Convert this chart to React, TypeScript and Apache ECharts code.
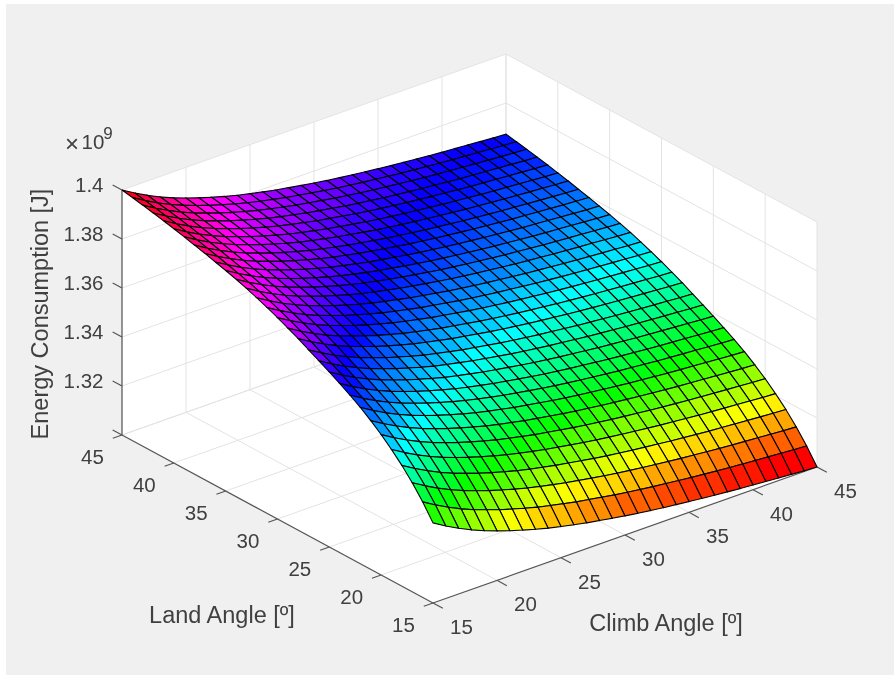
import React, { useEffect, useRef } from "react";
import * as echarts from "echarts";

const climbAngles = [15,16,17,18,19,20,21,22,23,24,25,26,27,28,29,30,31,32,33,34,35,36,37,38,39,40,41,42,43,44,45];
const landAngles = [15,16,17,18,19,20,21,22,23,24,25,26,27,28,29,30,31,32,33,34,35,36,37,38,39,40,41,42,43,44,45];
const climbTicks = [15,20,25,30,35,40,45];
const landTicks = [15,20,25,30,35,40,45];
const energyTicks = [1.3,1.32,1.34,1.36,1.38,1.4];
const energyTickLabels = ["1.32","1.34","1.36","1.38","1.4"];

// Energy in units of 1e5 J: one row per land angle, one column per climb angle.
const energy = [
[13327,13296,13268,13243,13221,13202,13184,13168,13153,13139,13127,13116,13105,13096,13087,13078,13070,13063,13056,13050,13044,13038,13033,13028,13023,13019,13015,13011,13007,13003,13000],
[13390,13359,13331,13306,13284,13265,13247,13231,13216,13202,13190,13179,13168,13159,13150,13141,13133,13126,13119,13113,13107,13101,13096,13091,13086,13082,13078,13074,13070,13066,13063],
[13445,13414,13386,13361,13339,13320,13302,13286,13271,13257,13245,13234,13223,13214,13205,13196,13188,13181,13174,13168,13162,13156,13151,13146,13141,13137,13133,13129,13125,13121,13118],
[13493,13462,13434,13409,13387,13368,13350,13334,13319,13305,13293,13282,13271,13262,13253,13244,13236,13229,13222,13216,13210,13204,13199,13194,13189,13185,13181,13177,13173,13169,13166],
[13535,13504,13476,13451,13429,13410,13392,13376,13361,13347,13335,13324,13313,13304,13295,13286,13278,13271,13264,13258,13252,13246,13241,13236,13231,13227,13223,13219,13215,13211,13208],
[13573,13542,13514,13489,13467,13448,13430,13414,13399,13385,13373,13362,13351,13342,13333,13324,13316,13309,13302,13296,13290,13284,13279,13274,13269,13265,13261,13257,13253,13249,13246],
[13607,13576,13548,13523,13501,13482,13464,13448,13433,13419,13407,13396,13385,13376,13367,13358,13350,13343,13336,13330,13324,13318,13313,13308,13303,13299,13295,13291,13287,13283,13280],
[13638,13607,13579,13554,13532,13513,13495,13479,13464,13450,13438,13427,13416,13407,13398,13389,13381,13374,13367,13361,13355,13349,13344,13339,13334,13330,13326,13322,13318,13314,13311],
[13665,13634,13606,13581,13559,13540,13522,13506,13491,13477,13465,13454,13443,13434,13425,13416,13408,13401,13394,13388,13382,13376,13371,13366,13361,13357,13353,13349,13345,13341,13338],
[13690,13659,13631,13606,13584,13565,13547,13531,13516,13502,13490,13479,13468,13459,13450,13441,13433,13426,13419,13413,13407,13401,13396,13391,13386,13382,13378,13374,13370,13366,13363],
[13714,13683,13655,13630,13608,13589,13571,13555,13540,13526,13514,13503,13492,13483,13474,13465,13457,13450,13443,13437,13431,13425,13420,13415,13410,13406,13402,13398,13394,13390,13387],
[13737,13706,13678,13653,13631,13612,13594,13578,13563,13549,13537,13526,13515,13506,13497,13488,13480,13473,13466,13460,13454,13448,13443,13438,13433,13429,13425,13421,13417,13413,13410],
[13759,13728,13700,13675,13653,13634,13616,13600,13585,13571,13559,13548,13537,13528,13519,13510,13502,13495,13488,13482,13476,13470,13465,13460,13455,13451,13447,13443,13439,13435,13432],
[13782,13751,13723,13698,13676,13657,13639,13623,13608,13594,13582,13571,13560,13551,13542,13533,13525,13518,13511,13505,13499,13493,13488,13483,13478,13474,13470,13466,13462,13458,13455],
[13802,13771,13743,13718,13696,13677,13659,13643,13628,13614,13602,13591,13580,13571,13562,13553,13545,13538,13531,13525,13519,13513,13508,13503,13498,13494,13490,13486,13482,13478,13475],
[13822,13791,13763,13738,13716,13697,13679,13663,13648,13634,13622,13611,13600,13591,13582,13573,13565,13558,13551,13545,13539,13533,13528,13523,13518,13514,13510,13506,13502,13498,13495],
[13840,13809,13781,13756,13734,13715,13697,13681,13666,13652,13640,13629,13618,13609,13600,13591,13583,13576,13569,13563,13557,13551,13546,13541,13536,13532,13528,13524,13520,13516,13513],
[13857,13826,13798,13773,13751,13732,13714,13698,13683,13669,13657,13646,13635,13626,13617,13608,13600,13593,13586,13580,13574,13568,13563,13558,13553,13549,13545,13541,13537,13533,13530],
[13873,13842,13814,13789,13767,13748,13730,13714,13699,13685,13673,13662,13651,13642,13633,13624,13616,13609,13602,13596,13590,13584,13579,13574,13569,13565,13561,13557,13553,13549,13546],
[13887,13856,13828,13803,13781,13762,13744,13728,13713,13699,13687,13676,13665,13656,13647,13638,13630,13623,13616,13610,13604,13598,13593,13588,13583,13579,13575,13571,13567,13563,13560],
[13900,13869,13841,13816,13794,13775,13757,13741,13726,13712,13700,13689,13678,13669,13660,13651,13643,13636,13629,13623,13617,13611,13606,13601,13596,13592,13588,13584,13580,13576,13573],
[13912,13881,13853,13828,13806,13787,13769,13753,13738,13724,13712,13701,13690,13681,13672,13663,13655,13648,13641,13635,13629,13623,13618,13613,13608,13604,13600,13596,13592,13588,13585],
[13924,13893,13865,13840,13818,13799,13781,13765,13750,13736,13724,13713,13702,13693,13684,13675,13667,13660,13653,13647,13641,13635,13630,13625,13620,13616,13612,13608,13604,13600,13597],
[13935,13904,13876,13851,13829,13810,13792,13776,13761,13747,13735,13724,13713,13704,13695,13686,13678,13671,13664,13658,13652,13646,13641,13636,13631,13627,13623,13619,13615,13611,13608],
[13946,13915,13887,13862,13840,13821,13803,13787,13772,13758,13746,13735,13724,13715,13706,13697,13689,13682,13675,13669,13663,13657,13652,13647,13642,13638,13634,13630,13626,13622,13619],
[13956,13925,13897,13872,13850,13831,13813,13797,13782,13768,13756,13745,13734,13725,13716,13707,13699,13692,13685,13679,13673,13667,13662,13657,13652,13648,13644,13640,13636,13632,13629],
[13966,13935,13907,13882,13860,13841,13823,13807,13792,13778,13766,13755,13744,13735,13726,13717,13709,13702,13695,13689,13683,13677,13672,13667,13662,13658,13654,13650,13646,13642,13639],
[13975,13944,13916,13891,13869,13850,13832,13816,13801,13787,13775,13764,13753,13744,13735,13726,13718,13711,13704,13698,13692,13686,13681,13676,13671,13667,13663,13659,13655,13651,13648],
[13984,13953,13925,13900,13878,13859,13841,13825,13810,13796,13784,13773,13762,13753,13744,13735,13727,13720,13713,13707,13701,13695,13690,13685,13680,13676,13672,13668,13664,13660,13657],
[13992,13961,13933,13908,13886,13867,13849,13833,13818,13804,13792,13781,13770,13761,13752,13743,13735,13728,13721,13715,13709,13703,13698,13693,13688,13684,13680,13676,13672,13668,13665],
[14000,13969,13941,13916,13894,13875,13857,13841,13826,13812,13800,13789,13778,13769,13760,13751,13743,13736,13729,13723,13717,13711,13706,13701,13696,13692,13688,13684,13680,13676,13673],
];

const FONT = '"Liberation Sans", Arial, sans-serif';
const TEXT = "#404040";
const GRIDLINE = "#e3e3e3";
const AXISLINE = "#555555";
const C0 = 15, C1 = 45, L0 = 15, L1 = 45, Z0 = 1.3, Z1 = 1.4;

// Orthographic view of (climb, land, energy in 1e9 J) onto the page.
function project(c: number, l: number, z: number): number[] {
  return [
    433 + (c - C0) * 12.8 - (l - L0) * 10.367,
    603 - (c - C0) * 4.533 - (l - L0) * 5.6 - ((z - Z0) / (Z1 - Z0)) * 245,
  ];
}

// MATLAB hsv colormap with 64 levels.
function hsvColor(z: number): string {
  const idx = Math.min(63, Math.floor(((z - Z0) / (Z1 - Z0)) * 64));
  const h = (idx / 64) * 6;
  const i = Math.floor(h);
  const f = h - i;
  const t = [
    [1, f, 0],
    [1 - f, 1, 0],
    [0, 1, f],
    [0, 1 - f, 1],
    [f, 0, 1],
    [1, 0, 1 - f],
  ][i % 6];
  return `rgb(${t.map((v) => Math.round(v * 255)).join(",")})`;
}

type P3 = number[];
const walls: P3[][] = [
  [[C0, L1, Z0], [C1, L1, Z0], [C1, L1, Z1], [C0, L1, Z1]],
  [[C1, L1, Z0], [C1, L0, Z0], [C1, L0, Z1], [C1, L1, Z1]],
  [[C0, L0, Z0], [C1, L0, Z0], [C1, L1, Z0], [C0, L1, Z0]],
];

const gridSegs: P3[][] = [];
climbTicks.forEach((c) => {
  if (c > C0) gridSegs.push([[c, L0, Z0], [c, L1, Z0]]);
  gridSegs.push([[c, L1, Z0], [c, L1, Z1]]);
});
landTicks.forEach((l) => {
  if (l > L0) gridSegs.push([[C0, l, Z0], [C1, l, Z0]]);
  gridSegs.push([[C1, l, Z0], [C1, l, Z1]]);
});
energyTicks.forEach((z) => {
  gridSegs.push([[C0, L1, z], [C1, L1, z]]);
  gridSegs.push([[C1, L1, z], [C1, L0, z]]);
});

const axisSegs: P3[][] = [
  [[C0, L1, Z0], [C0, L1, Z1]],
  [[C0, L0, Z0], [C0, L1, Z0]],
  [[C0, L0, Z0], [C1, L0, Z0]],
];
energyTicks.forEach((z) => axisSegs.push([[C0, L1, z], [C0, L1 + 0.9, z]]));
landTicks.forEach((l) => axisSegs.push([[C0, l, Z0], [C0 - 0.72, l, Z0]]));
climbTicks.forEach((c) => axisSegs.push([[c, L0, Z0], [c, L0 - 0.95, Z0]]));

const cells: number[][] = [];
for (let j = landAngles.length - 2; j >= 0; j--) {
  for (let i = climbAngles.length - 2; i >= 0; i--) cells.push([i, j]);
}

const zAt = (i: number, j: number) => (energy[j][i] * 1e5) / 1e9;

type Label = { text: string; x: number; y: number; size: number; align: string; rot?: number };
const labels: Label[] = [];
climbTicks.forEach((c) => {
  const p = project(c, L0, Z0);
  labels.push({ text: String(c), x: p[0] + 28.5, y: p[1] + 23.5, size: 20.5, align: "center" });
});
landTicks.forEach((l) => {
  const p = project(C0, l, Z0);
  labels.push({ text: String(l), x: p[0] - 29.5, y: p[1] + 21, size: 20.5, align: "center" });
});
energyTickLabels.forEach((t) => {
  const p = project(C0, L1, Number(t));
  labels.push({ text: t, x: 103.5, y: p[1] - 6, size: 20.5, align: "right" });
});
labels.push({ text: "Energy Consumption [J]", x: 40, y: 314, size: 23.5, align: "center", rot: Math.PI / 2 });
labels.push({ text: "Land Angle [º]", x: 222, y: 615, size: 23.5, align: "center" });
labels.push({ text: "Climb Angle [º]", x: 666, y: 623, size: 23.5, align: "center" });
labels.push({ text: "×", x: 72, y: 143, size: 24, align: "center" });
labels.push({ text: "10", x: 93, y: 141, size: 20.5, align: "center" });
labels.push({ text: "9", x: 108, y: 133, size: 17, align: "center" });

function customSeries(items: any[], z: number, build: (item: any, api: any) => any) {
  return {
    type: "custom",
    coordinateSystem: "cartesian2d",
    silent: true,
    clip: false,
    z,
    data: items.map((_, i) => [i, i]),
    renderItem: (params: any, api: any) => build(items[params.dataIndex], api),
  };
}

const toPx = (api: any, p: P3) => api.coord(project(p[0], p[1], p[2]));

export default function App() {
  const ref = useRef<HTMLDivElement>(null);
  useEffect(() => {
    document.body.style.margin = "0";
    const chart = echarts.init(ref.current!, undefined, { renderer: "svg" });
    chart.setOption({
      animation: false,
      backgroundColor: "#ffffff",
      grid: { left: 0, right: 0, top: 0, bottom: 0 },
      xAxis: { type: "value", min: 0, max: 894, show: false },
      yAxis: { type: "value", min: 0, max: 675, inverse: true, show: false },
      tooltip: { show: false },
      graphic: [
        { type: "rect", z: -1, shape: { x: 6, y: 4, width: 888, height: 671 }, style: { fill: "#f0f0f0" } },
      ],
      series: [
        customSeries(walls, 2, (w, api) => ({
          type: "polygon",
          shape: { points: w.map((p: P3) => toPx(api, p)) },
          style: { fill: "#ffffff" },
        })),
        customSeries(gridSegs, 3, (s, api) => {
          const a = toPx(api, s[0]);
          const b = toPx(api, s[1]);
          return { type: "line", shape: { x1: a[0], y1: a[1], x2: b[0], y2: b[1] }, style: { stroke: GRIDLINE, lineWidth: 1 } };
        }),
        customSeries(axisSegs, 4, (s, api) => {
          const a = toPx(api, s[0]);
          const b = toPx(api, s[1]);
          return { type: "line", shape: { x1: a[0], y1: a[1], x2: b[0], y2: b[1] }, style: { stroke: AXISLINE, lineWidth: 1.2 } };
        }),
        customSeries(cells, 5, (c, api) => {
          const [i, j] = c;
          const corners = [[i, j], [i + 1, j], [i + 1, j + 1], [i, j + 1]];
          return {
            type: "polygon",
            shape: {
              points: corners.map(([a, b]) => toPx(api, [climbAngles[a], landAngles[b], zAt(a, b)])),
            },
            style: { fill: hsvColor(zAt(i, j)), stroke: "#000000", lineWidth: 1.1 },
          };
        }),
        customSeries(labels, 6, (t: Label, api) => {
          const p = api.coord([t.x, t.y]);
          return {
            type: "text",
            x: p[0],
            y: p[1],
            rotation: t.rot || 0,
            style: {
              text: t.text,
              fill: TEXT,
              font: `${t.size}px ${FONT}`,
              align: t.align,
              verticalAlign: "middle",
            },
          };
        }),
      ],
    });
    return () => chart.dispose();
  }, []);
  return <div ref={ref} style={{ width: 894, height: 675, filter: "blur(0.4px)" }} />;
}
